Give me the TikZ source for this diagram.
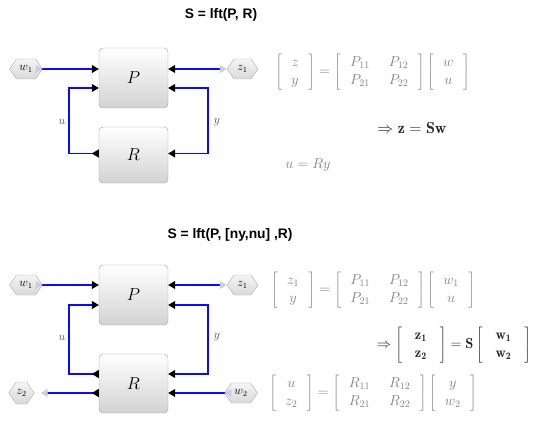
\RequirePackage{fix-cm}
\documentclass[tikz,border=0pt]{standalone}
\usepackage{fontspec}
\newfontfamily\titlefont{Liberation Sans}
\usetikzlibrary{arrows.meta,shapes.symbols}
\definecolor{wireblue}{RGB}{10,10,255}
\definecolor{porttip}{RGB}{200,208,222}
\newcommand{\mtx}[1]{\left[\begin{array}{c}#1\end{array}\right]}
\newcommand{\mtxx}[1]{\left[\begin{array}{cc}#1\end{array}\right]}
\begin{document}
\begin{tikzpicture}[x=1pt,y=-1pt,
  bt/.tip={Triangle[length=7pt,width=8pt,fill=black,color=black]},
  btr/.tip={Triangle[reversed,length=7pt,width=8pt,fill=black,color=black]},
  lt/.tip={Triangle[length=7pt,width=8pt,fill=porttip,color=porttip]},
  ltr/.tip={Triangle[reversed,length=7pt,width=8pt,fill=porttip,color=porttip]},
  block/.style={draw=gray!75,rounded corners=4pt,top color=white,bottom color=gray!35,
    minimum width=69pt,inner sep=0pt,font=\LARGE},
  hexport/.style={draw=gray!65,top color=gray!8,bottom color=gray!30,signal,signal to=west and east,
    signal pointer angle=110,inner sep=0pt,minimum height=20pt,font=\large},
  wire/.style={draw=wireblue,line width=1.05pt},
  title/.style={font=\titlefont\bfseries\fontsize{13.8}{16}\selectfont},
  eqgray/.style={text=black!50,font=\Large,inner sep=0pt},
  eqdark/.style={text=black!85,font=\Large,inner sep=0pt},
  lbl/.style={font=\large,text=black!70,inner sep=0pt}]
\useasboundingbox (0,0) rectangle (540,425);
\arraycolsep=9.5pt
% ---------- top diagram ----------
\node[title] (t1) at (221,15) {S = lft(P, R)};
\node[block,minimum height=60pt] (P1) at (133.5,78) {$P$};
\node[block,minimum height=56pt] (R1) at (133.5,155) {$R$};
\node[hexport,minimum width=33pt] (w1) at (26,69) {$w_1$};
\node[hexport,minimum width=31pt] (z1) at (242.5,69) {$z_1$};
\coordinate (ul1) at (69,88);
\coordinate (yr1) at (208,88);
\draw[wire,ltr-bt] ([xshift=-7pt]w1.east) -- (w1 -| P1.west);
\draw[wire,bt-lt] (P1.east |- z1) -- (z1.west);
\draw[wire,btr-bt] ([yshift=1.5pt]R1.west) -| (ul1) -- (ul1 -| P1.west);
\draw[wire,bt-bt] (yr1 -| P1.east) -- (yr1) |- ([yshift=1.5pt]R1.east);
\node[lbl] (u1) at (62,122) {$u$};
\node[lbl] (y1) at (217,122) {$y$};
\node[eqgray] (e1) at (372.5,72) {$\mtx{z\\ y}=\mtxx{P_{11}&P_{12}\\ P_{21}&P_{22}}\mtx{w\\ u}$};
\node[eqdark,font=\fontsize{16}{19}\selectfont] (e2) at (412,128) {$\Rightarrow \mathbf{z}=\mathbf{S}\mathbf{w}$};
\node[eqgray] (e3) at (308,165) {$u=Ry$};
% ---------- bottom diagram ----------
\node[title] (t2) at (230,235) {S = lft(P, [ny,nu] ,R)};
\node[block,minimum height=60pt] (P2) at (133.5,295) {$P$};
\node[block,minimum height=59pt] (R2) at (133.5,383.5) {$R$};
\node[hexport,minimum width=33pt] (w1b) at (26,285) {$w_1$};
\node[hexport,minimum width=31pt] (z1b) at (242.5,285) {$z_1$};
\node[hexport,minimum width=24pt,minimum height=22pt] (z2) at (21.5,393) {$z_2$};
\node[hexport,minimum width=33pt] (w2) at (241,393) {$w_2$};
\coordinate (ul2) at (69,305);
\coordinate (yr2) at (208,305);
\coordinate (rin2) at (168,374);
\coordinate (rlo2) at (168,393);
\draw[wire,ltr-bt] ([xshift=-7pt]w1b.east) -- (w1b -| P2.west);
\draw[wire,bt-lt] (P2.east |- z1b) -- (z1b.west);
\draw[wire,btr-bt] (rin2 -| R2.west) -| (ul2) -- (ul2 -| P2.west);
\draw[wire,bt-bt] (yr2 -| P2.east) -- (yr2) |- (rin2 -| R2.east);
\draw[wire,btr-lt] (rlo2 -| R2.west) -- ([xshift=6pt]z2.east);
\draw[wire,ltr-bt] ([xshift=7pt]w2.west) -- (rlo2 -| R2.east);
\node[lbl] (u2) at (62,338) {$u$};
\node[lbl] (y2) at (217,337) {$y$};
\node[eqgray] (e4) at (373,290) {$\mtx{z_1\\ y}=\mtxx{P_{11}&P_{12}\\ P_{21}&P_{22}}\mtx{w_1\\ u}$};
\node[eqdark] (e5) at (454,345) {\arraycolsep=13pt$\Rightarrow \mtx{\mathbf{z_1}\\ \mathbf{z_2}}=\mathbf{S}\mtx{\mathbf{w_1}\\ \mathbf{w_2}}$};
\node[eqgray] (e6) at (373,393) {$\mtx{u\\ z_2}=\mtxx{R_{11}&R_{12}\\ R_{21}&R_{22}}\mtx{y\\ w_2}$};
\end{tikzpicture}
\end{document}
